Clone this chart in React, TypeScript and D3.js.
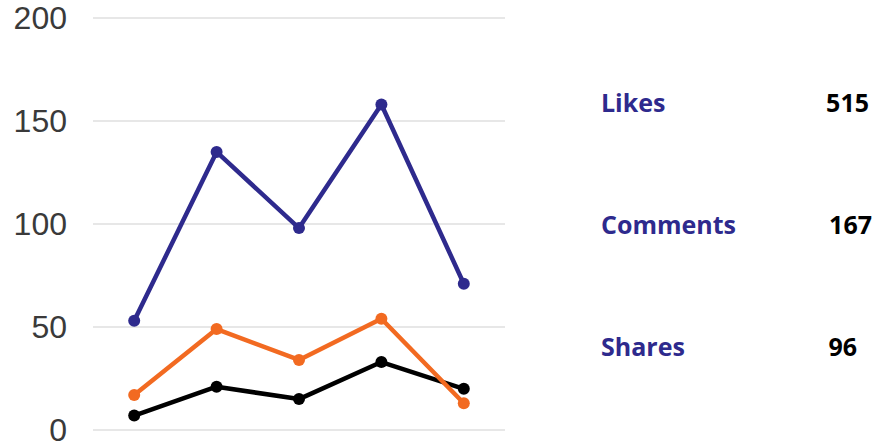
import React from 'react'
import { scaleLinear, scalePoint, line } from 'd3'

// chart data
const periods = ['P1', 'P2', 'P3', 'P4', 'P5']
const likes = [53, 135, 98, 158, 71]
const comments = [17, 49, 34, 54, 13]
const shares = [7, 21, 15, 33, 20]
const yTicks = [0, 50, 100, 150, 200]

const seriesNames = ['Likes', 'Comments', 'Shares']
const seriesValues = [likes, comments, shares]
const seriesColors = ['#2e2a8d', '#f26a21', '#000000']

const W = 874
const H = 446

const App = () => {
    const xScale = scalePoint<string>()
        .domain(periods)
        .range([93, 505])
        .padding(0.5)

    const yScale = scaleLinear().domain([0, 200]).range([430, 18])

    const lineGen = line<number>()
        .x((d, i) => xScale(periods[i]) as number)
        .y(d => yScale(d))

    // draw the lowest series first so Likes sits on top
    const order = [2, 1, 0]

    // right edges of the totals, as they sit in the layout
    const totalRight = [869, 872, 857]

    return (
        <>
            <style>{'html,body{margin:0;padding:0;overflow:hidden}'}</style>
            <svg width={W} height={H} style={{ display: 'block', background: 'white' }}>
                <g className="grid">
                    {yTicks.map(t => (
                        <g key={t}>
                            <line x1={93} x2={505} y1={yScale(t)} y2={yScale(t)} stroke="#cfcfcf" strokeWidth={1.2} />
                            <text
                                x={67}
                                y={yScale(t)}
                                dy="0.35em"
                                textAnchor="end"
                                fontFamily="Liberation Sans, Arial, sans-serif"
                                fontSize={32}
                                fill="#3a3a3a"
                            >
                                {t}
                            </text>
                        </g>
                    ))}
                </g>
                {order.map(si => (
                    <g key={seriesNames[si]}>
                        <path
                            d={lineGen(seriesValues[si]) || ''}
                            fill="none"
                            stroke={seriesColors[si]}
                            strokeWidth={4.5}
                            strokeLinejoin="round"
                        />
                        {seriesValues[si].map((v, i) => (
                            <circle key={i} cx={xScale(periods[i])} cy={yScale(v)} r={6} fill={seriesColors[si]} />
                        ))}
                    </g>
                ))}
                <g className="legend">
                    {seriesNames.map((name, i) => {
                        const total = seriesValues[i].reduce((a, b) => a + b, 0)
                        const y = 103 + i * 122
                        return (
                            <g key={name}>
                                <text
                                    x={601}
                                    y={y}
                                    dy="0.36em"
                                    fontFamily="Open Sans, sans-serif"
                                    fontWeight={700}
                                    fontSize={25}
                                    fill={seriesColors[0]}
                                >
                                    {name}
                                </text>
                                <text
                                    x={totalRight[i]}
                                    y={y}
                                    dy="0.36em"
                                    textAnchor="end"
                                    fontFamily="Open Sans, sans-serif"
                                    fontWeight={700}
                                    fontSize={25}
                                    fill="#000"
                                >
                                    {total}
                                </text>
                            </g>
                        )
                    })}
                </g>
            </svg>
        </>
    )
}

export default App
